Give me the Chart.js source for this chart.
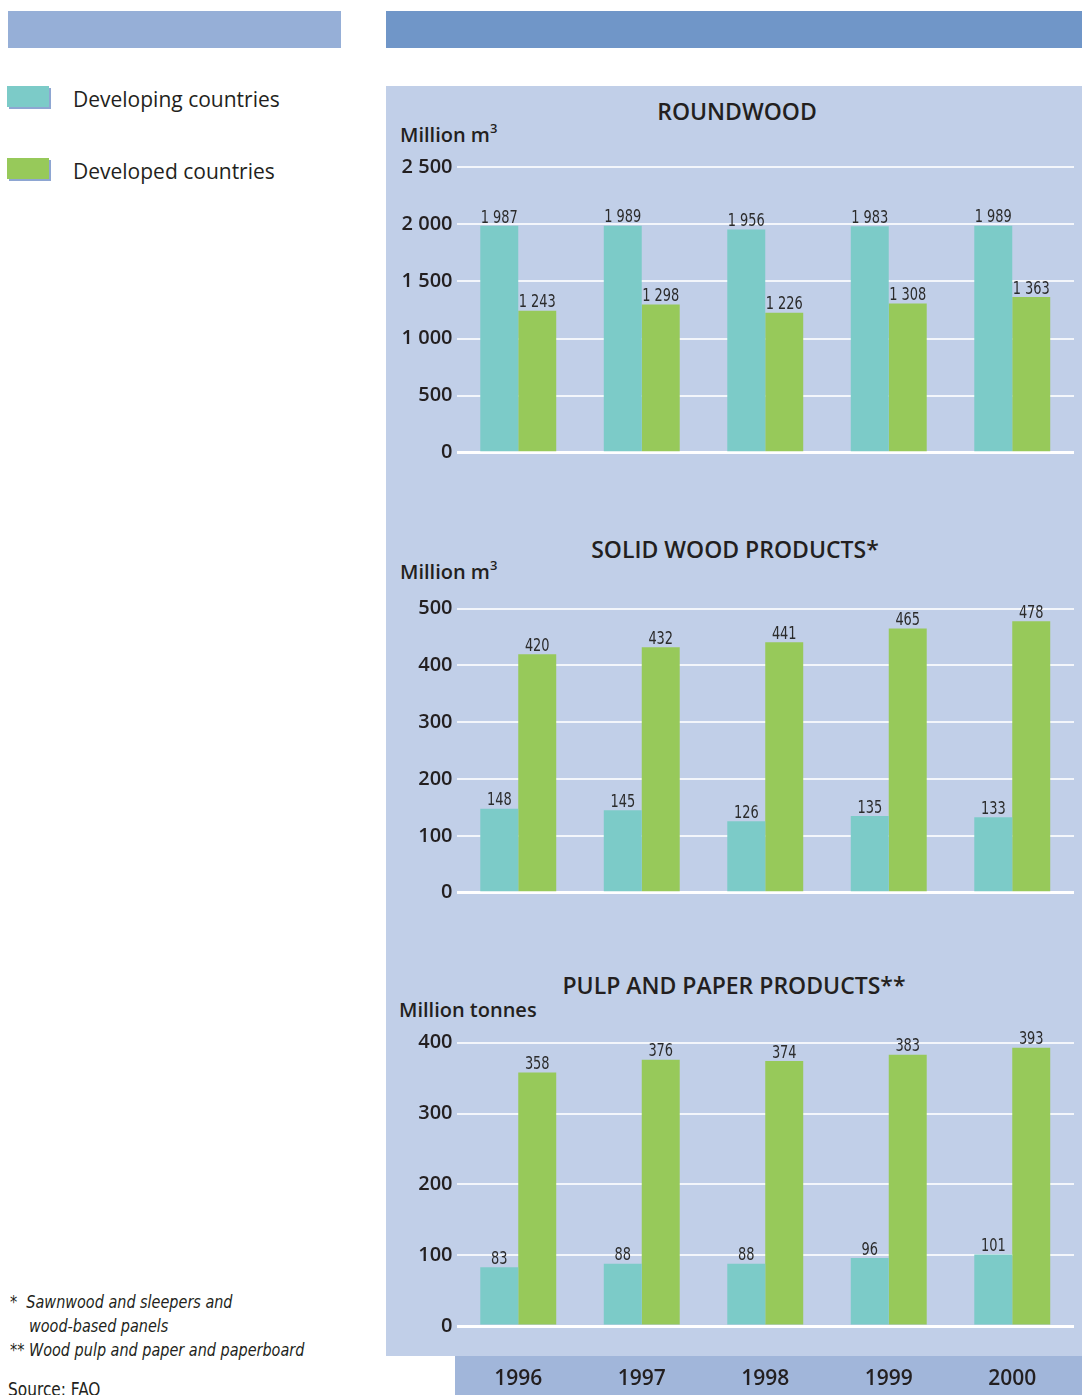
<!DOCTYPE html>
<html>
<head>
<meta charset="utf-8">
<script src="https://cdn.jsdelivr.net/npm/chart.js@4.4.1/dist/chart.umd.min.js"></script>
<style>
  html, body { margin: 0; padding: 0; background: #ffffff; }
  body { width: 1082px; height: 1395px; position: relative; overflow: hidden;
         font-family: "Open Sans", "Noto Sans", sans-serif; color: #231f20; }
  .abs { position: absolute; }
  .hdr-left { left: 8px; top: 11px; width: 333px; height: 37px; background: #96afd7; }
  .hdr-right { left: 386px; top: 11px; width: 696px; height: 37px; background: #7096c8; }
  .panel { left: 386px; top: 86px; width: 696px; height: 1270px; background: #c1cfe8; }
  .strip { left: 455px; top: 1356px; width: 627px; height: 39px; background: #a1b6da; }
  .swatch { width: 42px; height: 21px; box-shadow: 2px 2px 0 #8ea6d2; }
  .legend-text { font-size: 21px; line-height: 26px; color: #231f20; }
  .title { font-size: 23px; font-weight: 600; color: #231f20;
           transform: translateX(-50%); white-space: nowrap; }
  .unit { font-size: 20px; font-weight: 600; color: #231f20; white-space: nowrap; }
  .unit sup { font-size: 13px; position: relative; top: -1px; }
  .note { font-family: "Liberation Sans Narrow", "DejaVu Sans Condensed", sans-serif;
          font-style: italic; font-size: 18px; color: #231f20; white-space: nowrap;
          transform-origin: 0 0; transform: scaleX(0.89); }
  canvas.chart { position: absolute; left: 386px; }
</style>
</head>
<body>
<div class="abs hdr-left"></div>
<div class="abs hdr-right"></div>

<div class="abs swatch" style="left:7px;top:86px;background:#7ccbc8;"></div>
<div class="abs legend-text" style="left:73px;top:86px;">Developing countries</div>
<div class="abs swatch" style="left:7px;top:158px;background:#97c95a;"></div>
<div class="abs legend-text" style="left:73px;top:158px;">Developed countries</div>

<div class="abs panel"></div>
<div class="abs strip"></div>

<div class="abs title" style="left:737px;top:95px;">ROUNDWOOD</div>
<div class="abs unit" style="left:400px;top:120px;">Million m<sup>3</sup></div>
<div class="abs title" style="left:735px;top:533px;">SOLID WOOD PRODUCTS*</div>
<div class="abs unit" style="left:400px;top:557px;">Million m<sup>3</sup></div>
<div class="abs title" style="left:734px;top:969px;">PULP AND PAPER PRODUCTS**</div>
<div class="abs unit" style="left:399px;top:996px;">Million tonnes</div>

<div class="abs note" style="left:10px;top:1291px;">*&nbsp;&nbsp;Sawnwood and sleepers and</div>
<div class="abs note" style="left:29px;top:1315px;">wood-based panels</div>
<div class="abs note" style="left:10px;top:1339px;">** Wood pulp and paper and paperboard</div>
<div class="abs" style="left:8px;top:1378px;font-size:19px;font-family:'Liberation Sans Narrow','DejaVu Sans Condensed',sans-serif;transform-origin:0 0;transform:scaleX(0.9);">Source: FAO</div>

<canvas id="c1" class="chart" width="696" height="330" style="top:140px;"></canvas>
<canvas id="c2" class="chart" width="696" height="330" style="top:580px;"></canvas>
<canvas id="c3" class="chart" width="696" height="375" style="top:1020px;"></canvas>

<script>
// Years shown on the category axis
const years = ['1996', '1997', '1998', '1999', '2000'];

// Roundwood production, million m3
const roundwoodDeveloping = [1987, 1989, 1956, 1983, 1989];
const roundwoodDeveloped  = [1243, 1298, 1226, 1308, 1363];

// Solid wood products, million m3
const solidDeveloping = [148, 145, 126, 135, 133];
const solidDeveloped  = [420, 432, 441, 465, 478];

// Pulp and paper products, million tonnes
const pulpDeveloping = [83, 88, 88, 96, 101];
const pulpDeveloped  = [358, 376, 374, 383, 393];

const seriesNames = ['Developing countries', 'Developed countries'];
const TEAL = '#7ccbc8';
const GREEN = '#97c95a';
const NARROW = '"Liberation Sans Narrow", "DejaVu Sans Condensed", sans-serif';

function spaced(v) {
  return String(v).replace(/\B(?=(\d{3})+(?!\d))/g, ' ');
}

// Value labels drawn just above each bar, in a condensed face
const valueLabels = {
  id: 'valueLabels',
  afterDatasetsDraw(chart) {
    const ctx = chart.ctx;
    const sx = 0.8;
    chart.data.datasets.forEach((ds, di) => {
      chart.getDatasetMeta(di).data.forEach((bar, i) => {
        ctx.save();
        ctx.font = '18px ' + NARROW;
        ctx.fillStyle = '#2b2b2b';
        ctx.textAlign = 'center';
        ctx.textBaseline = 'bottom';
        ctx.translate(bar.x, bar.y + 1);
        ctx.scale(sx, 1);
        ctx.fillText(spaced(ds.data[i]), 0, 0);
        ctx.restore();
      });
    });
  }
};

function makeChart(id, dev, devd, max, step, padTop, padBottom, showYears) {
  const xScale = showYears ? {
    display: true,
    grid: { display: false, drawTicks: false },
    border: { display: false },
    ticks: { color: '#231f20', padding: 40, font: { family: '"Open Sans", "Noto Sans", sans-serif', size: 21, weight: '600' } },
    afterFit(scale) { scale.height = 69; }
  } : { display: false };

  return new Chart(document.getElementById(id), {
    type: 'bar',
    data: {
      labels: years,
      datasets: [
        { label: seriesNames[0], data: dev, backgroundColor: TEAL, borderWidth: 0 },
        { label: seriesNames[1], data: devd, backgroundColor: GREEN, borderWidth: 0 }
      ]
    },
    options: {
      responsive: false,
      animation: false,
      events: [],
      layout: { padding: { top: padTop, bottom: padBottom, left: 0, right: 8 } },
      datasets: { bar: { categoryPercentage: 0.615, barPercentage: 1.0 } },
      plugins: { legend: { display: false }, tooltip: { enabled: false }, title: { display: false } },
      scales: {
        x: xScale,
        y: {
          min: 0, max: max,
          border: { display: false },
          grid: {
            drawTicks: false,
            color: (c) => c.tick && c.tick.value === 0 ? '#ffffff' : 'rgba(255,255,255,0.8)',
            lineWidth: (c) => c.tick && c.tick.value === 0 ? 3 : 2
          },
          ticks: {
            stepSize: step,
            padding: 4,
            color: '#231f20',
            font: { family: '"Open Sans", "Noto Sans", sans-serif', size: 20, weight: '600' },
            callback: (v) => spaced(v)
          },
          afterFit(scale) { scale.width = 70.5; }
        }
      }
    },
    plugins: [valueLabels]
  });
}

makeChart('c1', roundwoodDeveloping, roundwoodDeveloped, 2500, 500, 27.3, 17.3, false);
makeChart('c2', solidDeveloping, solidDeveloped, 500, 100, 28.7, 17.3, false);
makeChart('c3', pulpDeveloping, pulpDeveloped, 400, 100, 22.7, 0, true);
</script>
</body>
</html>
